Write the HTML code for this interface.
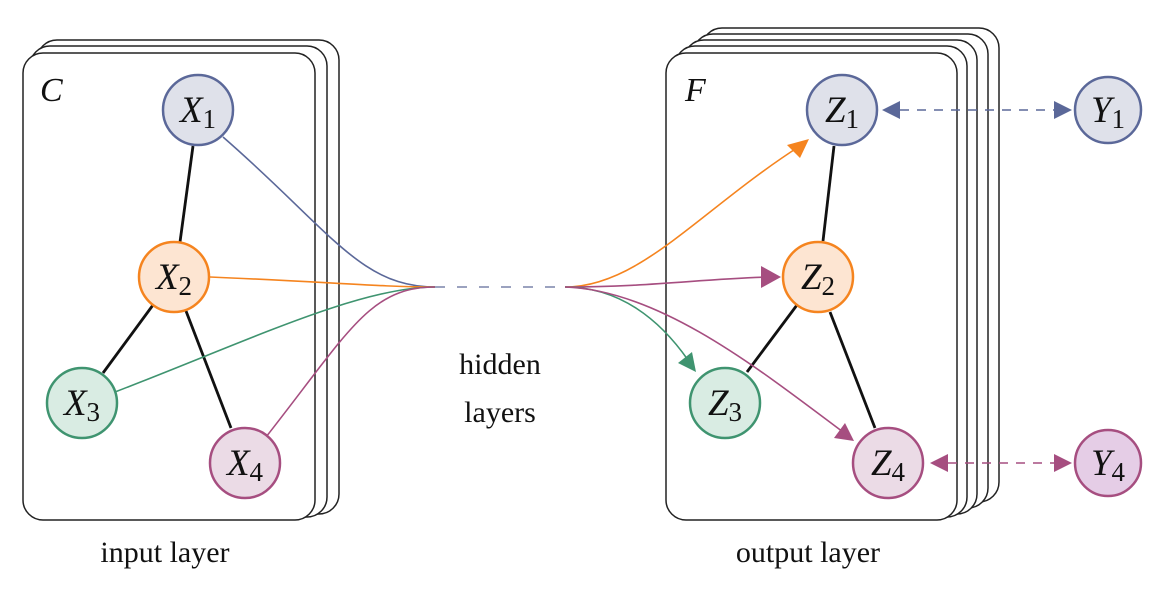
<!DOCTYPE html>
<html><head><meta charset="utf-8"><style>body{margin:0;background:#fff}svg{display:block}</style></head><body>
<svg width="1164" height="609" viewBox="0 0 1164 609" xmlns="http://www.w3.org/2000/svg" font-family="Liberation Serif, serif">
<g fill="#fff" stroke="#222" stroke-width="1.5">
<rect x="37" y="40" width="302" height="474" rx="20"/>
<rect x="30" y="46" width="297" height="471" rx="20"/>
<rect x="23" y="53" width="292" height="467" rx="20"/>
<rect x="702" y="28" width="297" height="474" rx="20"/>
<rect x="693" y="34" width="295" height="474" rx="20"/>
<rect x="684" y="40" width="293" height="474" rx="20"/>
<rect x="675" y="46" width="292" height="471" rx="20"/>
<rect x="666" y="53" width="291" height="467" rx="20"/>
</g>
<g font-style="italic" font-size="34" fill="#111"><text x="40" y="101">C</text><text x="685" y="101">F</text></g>
<g font-size="30" fill="#111" text-anchor="middle">
<text x="500" y="374">hidden</text><text x="500" y="422">layers</text>
<text x="165" y="562">input layer</text><text x="808" y="562">output layer</text>
</g>
<g stroke="#111" stroke-width="2.8">
<line x1="193" y1="146" x2="180" y2="242"/><line x1="153" y1="305" x2="103" y2="373"/><line x1="186" y1="311" x2="231" y2="428"/>
<line x1="834" y1="146" x2="823" y2="241"/><line x1="797" y1="305" x2="747" y2="372"/><line x1="830" y1="312" x2="875" y2="428"/>
</g>
<g fill="none" stroke-width="1.6">
<path d="M223,137 C330,230 360,287 435,287" stroke="#5b6899"/>
<path d="M210,277 C330,282 380,287 435,287" stroke="#f5841f"/>
<path d="M115,392 C250,340 360,287 435,287" stroke="#3f9470"/>
<path d="M266,437 C350,330 370,287 435,287" stroke="#a64e80"/>
<line x1="435" y1="287" x2="565" y2="287" stroke="#7a84aa" stroke-dasharray="10,12"/>
<path d="M565,287 C640,287 700,210 800,146" stroke="#f5841f"/>
<path d="M565,287 C650,287 700,279 770,277" stroke="#a64e80"/>
<path d="M565,287 C620,287 660,320 688,360" stroke="#3f9470"/>
<path d="M565,287 C660,290 760,370 843,432" stroke="#a64e80"/>
<line x1="900" y1="110" x2="1058" y2="110" stroke="#5b6899" stroke-dasharray="9,8"/>
<line x1="948" y1="463" x2="1058" y2="463" stroke="#a64e80" stroke-dasharray="9,8"/>
</g>
<g>
<polygon points="809,139 787,145 800,158" fill="#f5841f"/>
<polygon points="781,277 761,266 761,288" fill="#a64e80"/>
<polygon points="696,372 678,363 692,352" fill="#3f9470"/>
<polygon points="854,441 834,438 845,423" fill="#a64e80"/>
<polygon points="882,110 900,101 900,119" fill="#5b6899"/>
<polygon points="1072,110 1054,101 1054,119" fill="#5b6899"/>
<polygon points="930,463 948,454 948,472" fill="#a64e80"/>
<polygon points="1072,463 1054,454 1054,472" fill="#a64e80"/>
</g>
<g stroke-width="2.5">
<circle cx="198" cy="110" r="35" fill="#dfe1ea" stroke="#5b6899"/>
<circle cx="174" cy="277" r="35" fill="#fde5d2" stroke="#f5841f"/>
<circle cx="82" cy="403" r="35" fill="#d9ece3" stroke="#3f9470"/>
<circle cx="245" cy="463" r="35" fill="#ebdbe6" stroke="#a64e80"/>
<circle cx="842" cy="110" r="35" fill="#dfe1ea" stroke="#5b6899"/>
<circle cx="818" cy="277" r="35" fill="#fde5d2" stroke="#f5841f"/>
<circle cx="725" cy="403" r="35" fill="#d9ece3" stroke="#3f9470"/>
<circle cx="888" cy="463" r="35" fill="#ebdbe6" stroke="#a64e80"/>
<circle cx="1108" cy="110" r="33" fill="#dfe1ea" stroke="#5b6899"/>
<circle cx="1108" cy="463" r="33" fill="#e5cde6" stroke="#a64e80"/>
</g>
<g fill="#111" font-size="37" text-anchor="middle">
<text x="198" y="122"><tspan font-style="italic">X</tspan><tspan font-size="27" dy="6">1</tspan></text>
<text x="174" y="289"><tspan font-style="italic">X</tspan><tspan font-size="27" dy="6">2</tspan></text>
<text x="82" y="415"><tspan font-style="italic">X</tspan><tspan font-size="27" dy="6">3</tspan></text>
<text x="245" y="475"><tspan font-style="italic">X</tspan><tspan font-size="27" dy="6">4</tspan></text>
<text x="842" y="122"><tspan font-style="italic">Z</tspan><tspan font-size="27" dy="6">1</tspan></text>
<text x="818" y="289"><tspan font-style="italic">Z</tspan><tspan font-size="27" dy="6">2</tspan></text>
<text x="725" y="415"><tspan font-style="italic">Z</tspan><tspan font-size="27" dy="6">3</tspan></text>
<text x="888" y="475"><tspan font-style="italic">Z</tspan><tspan font-size="27" dy="6">4</tspan></text>
<text x="1108" y="122"><tspan font-style="italic">Y</tspan><tspan font-size="27" dy="6">1</tspan></text>
<text x="1108" y="475"><tspan font-style="italic">Y</tspan><tspan font-size="27" dy="6">4</tspan></text>
</g>
</svg>
</body></html>
